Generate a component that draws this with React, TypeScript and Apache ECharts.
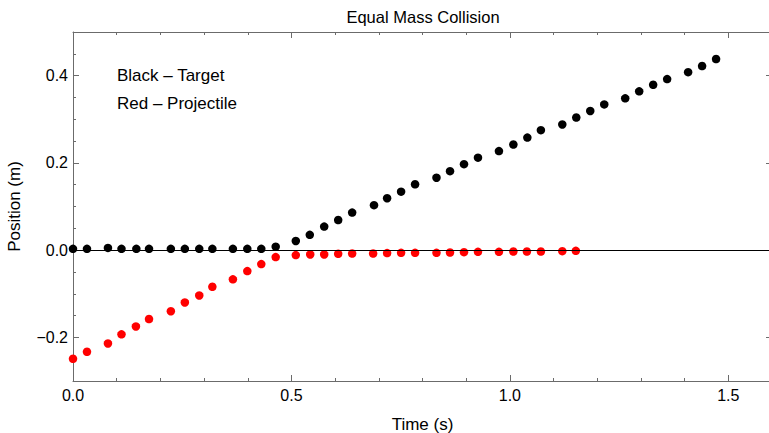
import React, { useEffect, useRef } from "react";
import * as echarts from "echarts";

const chartTitle = "Equal Mass Collision";
const xAxisName = "Time (s)";
const yAxisName = "Position (m)";
const legendTexts = ["Black \u2013 Target", "Red \u2013 Projectile"];

const xMajorTicks = [0, 0.5, 1.0, 1.5];
const yMajorTicks = [-0.2, 0, 0.2, 0.4];

const tBlack = [
  0.0, 0.032, 0.08, 0.111, 0.145, 0.174, 0.224, 0.256, 0.289, 0.319, 0.366, 0.399, 0.431, 0.464,
  0.51, 0.542, 0.575, 0.607, 0.639, 0.689, 0.719, 0.751, 0.783, 0.832, 0.863, 0.895, 0.927, 0.975,
  1.008, 1.04, 1.071, 1.12, 1.152, 1.184, 1.216, 1.264, 1.296, 1.328, 1.36, 1.408, 1.44, 1.472,
];
const yBlack = [
  0.003, 0.003, 0.005, 0.003, 0.003, 0.003, 0.003, 0.003, 0.003, 0.003, 0.003, 0.003, 0.003, 0.008,
  0.021, 0.035, 0.054, 0.069, 0.086, 0.103, 0.119, 0.134, 0.151, 0.166, 0.181, 0.197, 0.212, 0.227,
  0.242, 0.258, 0.275, 0.288, 0.304, 0.319, 0.334, 0.348, 0.364, 0.379, 0.392, 0.408, 0.422, 0.438,
];

const tRed = [
  0.0, 0.032, 0.08, 0.111, 0.144, 0.174, 0.224, 0.256, 0.289, 0.319, 0.366, 0.399, 0.431, 0.464,
  0.51, 0.543, 0.575, 0.607, 0.639, 0.687, 0.719, 0.751, 0.783, 0.832, 0.863, 0.895, 0.927, 0.975,
  1.008, 1.039, 1.071, 1.12, 1.151,
];
const yRed = [
  -0.249, -0.233, -0.214, -0.193, -0.175, -0.158, -0.14, -0.12, -0.104, -0.084, -0.067, -0.048,
  -0.032, -0.016, -0.0114, -0.01, -0.01, -0.0084, -0.0078, -0.0078, -0.0068, -0.0062, -0.0062,
  -0.0062, -0.0055, -0.0046, -0.0039, -0.0039, -0.0032, -0.0032, -0.0032, -0.0023, -0.0016,
];

const FONT = "'Liberation Sans', Arial, Helvetica, sans-serif";
const FRAME = "#6b6b6b";

const isIn = (arr: number[], v: number) => arr.some((m) => Math.abs(m - v) < 1e-6);
const fmt = (v: number) => (v < -1e-9 ? "\u2212" + Math.abs(v).toFixed(1) : Math.abs(v).toFixed(1));

export default function App() {
  const ref = useRef<HTMLDivElement>(null);
  useEffect(() => {
    if (!ref.current) return;
    const chart = echarts.init(ref.current, null, { renderer: "svg" });

    const xBase = { type: "value", min: 0, max: 1.6, interval: 0.1, splitLine: { show: false } };
    const yBase = { type: "value", min: -0.3, max: 0.5, interval: 0.05, splitLine: { show: false } };

    const minorX = (position: string, withLabels: boolean, name?: string) => ({
      ...xBase,
      position,
      axisLine: { show: true, onZero: false, lineStyle: { color: FRAME, width: 1 } },
      axisTick: { show: true, inside: true, length: 3, lineStyle: { color: FRAME } },
      axisLabel: {
        show: withLabels,
        margin: 6,
        color: "#000",
        fontSize: 16,
        fontFamily: FONT,
        formatter: (v: number) => (isIn(xMajorTicks, v) ? fmt(v) : ""),
      },
      ...(name
        ? {
            name,
            nameLocation: "middle",
            nameGap: 35,
            nameTextStyle: { color: "#000", fontSize: 17, fontFamily: FONT },
          }
        : {}),
    });
    const majorX = (position: string) => ({
      ...xBase,
      position,
      axisLine: { show: false, onZero: false },
      axisTick: { show: true, inside: true, length: 6, customValues: xMajorTicks, lineStyle: { color: FRAME } },
      axisLabel: { show: false },
    });
    const minorY = (position: string, withLabels: boolean, name?: string) => ({
      ...yBase,
      position,
      axisLine: { show: true, onZero: false, lineStyle: { color: FRAME, width: 1 } },
      axisTick: { show: true, inside: true, length: 3, lineStyle: { color: FRAME } },
      axisLabel: {
        show: withLabels,
        margin: 5,
        color: "#000",
        fontSize: 16,
        fontFamily: FONT,
        formatter: (v: number) => (isIn(yMajorTicks, v) ? fmt(v) : ""),
      },
      ...(name
        ? {
            name,
            nameLocation: "middle",
            nameGap: 50,
            nameRotate: 90,
            nameTextStyle: { color: "#000", fontSize: 17, fontFamily: FONT },
          }
        : {}),
    });
    const majorY = (position: string) => ({
      ...yBase,
      position,
      axisLine: { show: false, onZero: false },
      axisTick: { show: true, inside: true, length: 6, customValues: yMajorTicks, lineStyle: { color: FRAME } },
      axisLabel: { show: false },
    });

    chart.setOption({
      animation: false,
      backgroundColor: "#fff",
      title: {
        text: chartTitle,
        left: 418,
        textAlign: "center",
        top: 3,
        textStyle: { color: "#000", fontSize: 16.5, fontWeight: "normal", fontFamily: FONT },
      },
      grid: { left: 73, top: 32, right: -3, bottom: 52, containLabel: false, outerBoundsMode: "none" },
      xAxis: [minorX("bottom", true, xAxisName), majorX("bottom"), minorX("top", false), majorX("top")],
      yAxis: [minorY("left", true, yAxisName), majorY("left"), minorY("right", false), majorY("right")],
      graphic: [
        {
          type: "text",
          left: 117,
          top: 67,
          style: { text: legendTexts[0], fill: "#000", fontSize: 17, fontFamily: FONT },
        },
        {
          type: "text",
          left: 117,
          top: 95,
          style: { text: legendTexts[1], fill: "#000", fontSize: 17, fontFamily: FONT },
        },
      ],
      series: [
        {
          type: "scatter",
          data: [],
          z: 1,
          silent: true,
          markLine: {
            silent: true,
            symbol: "none",
            label: { show: false },
            lineStyle: { color: "#000", width: 1, type: "solid" },
            data: [{ yAxis: 0 }],
          },
        },
        {
          type: "scatter",
          name: "Target",
          z: 3,
          symbol: "circle",
          symbolSize: 8.5,
          itemStyle: { color: "#000", opacity: 1 },
          data: tBlack.map((t, i) => [t, yBlack[i]]),
        },
        {
          type: "scatter",
          name: "Projectile",
          z: 3,
          symbol: "circle",
          symbolSize: 8.5,
          itemStyle: { color: "#ff0000", opacity: 1 },
          data: tRed.map((t, i) => [t, yRed[i]]),
        },
      ],
    });
    return () => chart.dispose();
  }, []);
  return (
    <div
      ref={ref}
      style={{ position: "absolute", left: 0, top: 0, width: 769, height: 433, background: "#fff" }}
    />
  );
}
